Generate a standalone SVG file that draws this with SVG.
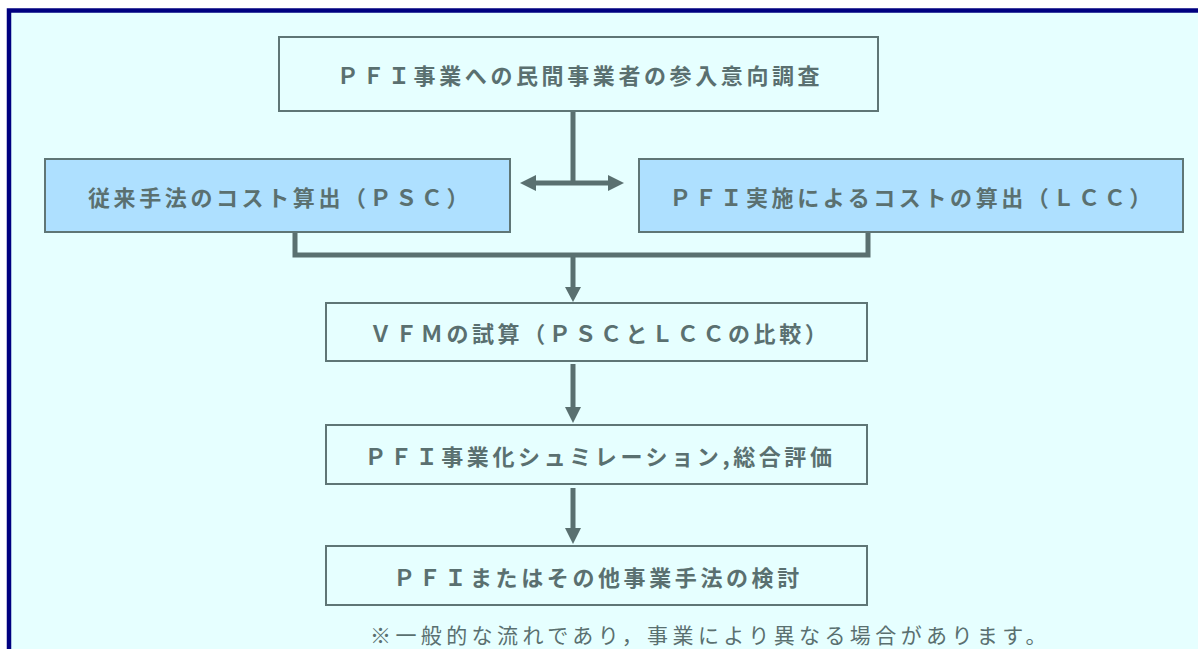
<svg xmlns="http://www.w3.org/2000/svg" width="1198" height="649" viewBox="0 0 1198 649">
<style>
.box{fill:#E6FFFF;stroke:#5F7676;stroke-width:2}
.blue{fill:#AEE0FF;stroke:#5F7676;stroke-width:2}
.t{font-family:"Noto Sans CJK JP","Noto Sans",sans-serif;font-weight:bold;font-size:22px;letter-spacing:3.6px;fill:#5A7070;text-anchor:middle;dominant-baseline:central}
.note{font-family:"Noto Sans CJK JP","Noto Sans",sans-serif;font-size:21px;letter-spacing:4.4px;fill:#5A7070}
.ln{stroke:#5A7070;stroke-width:5;fill:none}
.ah{fill:#5A7070}
</style>
<rect x="0" y="0" width="1198" height="649" fill="#FFFFFF"/>
<rect x="9" y="10.5" width="1220" height="700" fill="#E6FFFF" stroke="#000080" stroke-width="4.5"/>

<g id="connectors">
  <line class="ln" x1="573" y1="111" x2="573" y2="183"/>
  <line class="ln" x1="533" y1="183" x2="610" y2="183"/>
  <polygon class="ah" points="520,183 536,175 536,191"/>
  <polygon class="ah" points="624,183 608,175 608,191"/>
  <polyline class="ln" points="295,232 295,255 868,255 868,232"/>
  <line class="ln" x1="573" y1="255" x2="573" y2="288"/>
  <polygon class="ah" points="565,287 581,287 573,302"/>
  <line class="ln" x1="573" y1="364" x2="573" y2="408"/>
  <polygon class="ah" points="565,407 581,407 573,423"/>
  <line class="ln" x1="573" y1="488" x2="573" y2="529"/>
  <polygon class="ah" points="565,528 581,528 573,544"/>
</g>

<g id="n1">
  <rect class="box" x="279" y="37" width="599" height="74"/>
  <text class="t" x="580" y="74">ＰＦＩ事業への民間事業者の参入意向調査</text>
</g>
<g id="n2">
  <rect class="blue" x="45" y="159" width="465" height="73"/>
  <text class="t" x="280" y="195.5">従来手法のコスト算出（ＰＳＣ）</text>
</g>
<g id="n3">
  <rect class="blue" x="639" y="159" width="544" height="73"/>
  <text class="t" x="912" y="195.5">ＰＦＩ実施によるコストの算出（ＬＣＣ）</text>
</g>
<g id="n4">
  <rect class="box" x="326" y="303" width="541" height="58"/>
  <text class="t" x="600" y="332">ＶＦＭの試算（ＰＳＣとＬＣＣの比較）</text>
</g>
<g id="n5">
  <rect class="box" x="326" y="425" width="541" height="59"/>
  <text class="t" x="600" y="454.5">ＰＦＩ事業化シュミレーション,総合評価</text>
</g>
<g id="n6">
  <rect class="box" x="326" y="546" width="541" height="59"/>
  <text class="t" x="598" y="575.5">ＰＦＩまたはその他事業手法の検討</text>
</g>
<g id="note">
  <text class="note" x="370" y="643">※一般的な流れであり，事業により異なる場合があります。</text>
</g>
</svg>
